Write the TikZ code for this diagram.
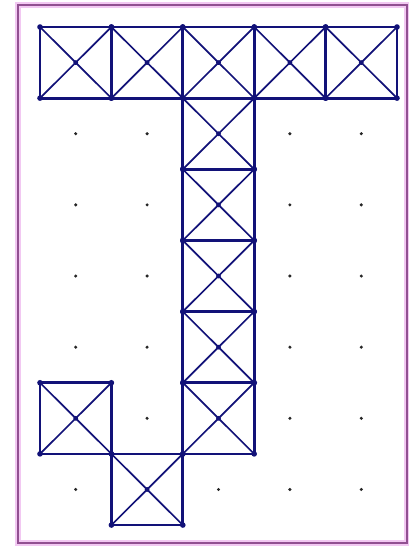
\documentclass[tikz,border=0pt]{standalone}
\definecolor{navy}{RGB}{18,18,120}
\definecolor{frame}{RGB}{145,80,145}
\definecolor{glow}{RGB}{242,200,242}
\tikzset{
  cellbox/.style={draw=navy, line width=2.8pt},
  diag/.style={draw=navy, line width=1.7pt},
  vdot/.style={fill=navy},
  gdot/.style={fill=black!85},
}
\begin{document}
\begin{tikzpicture}[x=1pt,y=-1pt]
\useasboundingbox (0,0) rectangle (408,548);
\fill[white] (0,0) rectangle (408,548);
% frame
\draw[glow, line width=6pt] (18,5) rectangle (407,543);
\draw[frame, line width=2.2pt] (18,5) rectangle (407,543);
\def\cw{71.4}\def\ch{71.15}
\def\ox{40}\def\oy{27}
% filled cells
\foreach \c/\r in {0/0,1/0,2/0,3/0,4/0,2/1,2/2,2/3,2/4,2/5,0/5,1/6}{
  \pgfmathsetmacro\xa{\ox+\c*\cw}
  \pgfmathsetmacro\ya{\oy+\r*\ch}
  \pgfmathsetmacro\xb{\xa+\cw}
  \pgfmathsetmacro\yb{\ya+\ch}
  \pgfmathsetmacro\xm{\xa+\cw/2}
  \pgfmathsetmacro\ym{\ya+\ch/2}
  \draw[diag] (\xa,\ya) -- (\xb,\yb) (\xb,\ya) -- (\xa,\yb);
  \draw[cellbox] (\xa,\ya) rectangle (\xb,\yb);
  \fill[vdot] (\xm,\ym) circle (2.4pt);
  \foreach \px/\py in {\xa/\ya,\xb/\ya,\xa/\yb,\xb/\yb}{\fill[vdot] (\px,\py) circle (2.8pt);}
}
% empty cell dots
\foreach \c/\r in {0/1,1/1,3/1,4/1,0/2,1/2,3/2,4/2,0/3,1/3,3/3,4/3,0/4,1/4,3/4,4/4,1/5,3/5,4/5,0/6,2/6,3/6,4/6}{
  \pgfmathsetmacro\xm{\ox+\c*\cw+\cw/2}
  \pgfmathsetmacro\ym{\oy+\r*\ch+\ch/2}
  \fill[gdot] (\xm,\ym) circle (1.7pt);
}
\end{tikzpicture}
\end{document}
